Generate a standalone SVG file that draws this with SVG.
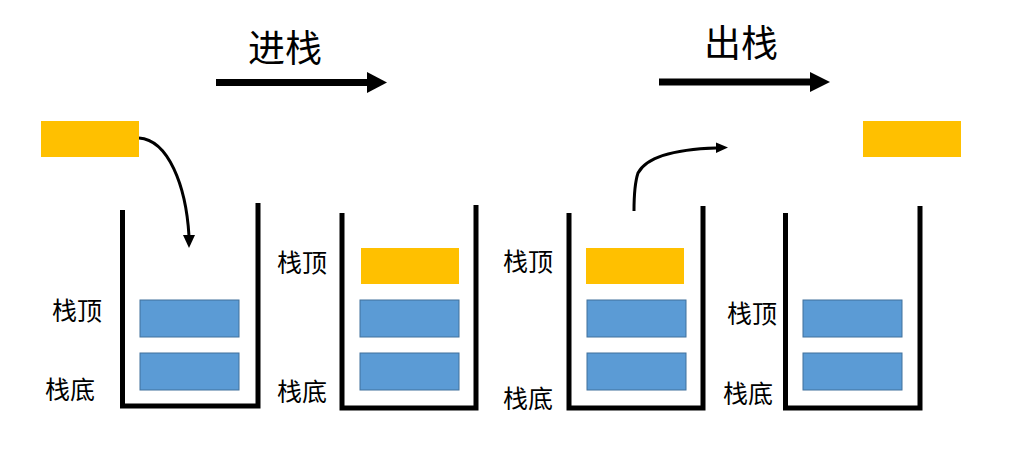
<svg xmlns="http://www.w3.org/2000/svg" width="1025" height="460" viewBox="0 0 1025 460">
<defs>
<style>
.wall{fill:none;stroke:#000;stroke-width:5;stroke-linejoin:miter;stroke-linecap:butt}
.blue{fill:#5B9BD5;stroke:#41719C;stroke-width:1}
.orange{fill:#FFC000;stroke:none}
.lbl{font-family:"Noto Sans CJK SC","Liberation Serif",serif;font-size:25px;fill:#000}
.title{font-family:"Noto Sans CJK SC","Liberation Serif",serif;font-size:37px;fill:#000}
.big{fill:none;stroke:#000;stroke-width:7}
.curve{fill:none;stroke:#000;stroke-width:3}
</style>
</defs>
<rect width="1025" height="460" fill="#fff"/>

<g id="connectors">
<g id="push-arrow">
<line class="big" x1="216" y1="82.5" x2="368" y2="82.5"/>
<polygon points="367,72 387,82.5 367,93" fill="#000"/>
</g>
<g id="pop-arrow">
<line class="big" x1="659" y1="82" x2="811" y2="82"/>
<polygon points="810,72 830,82 810,92" fill="#000"/>
</g>
<path id="push-curve" class="curve" d="M139,138 C168,140 186,185 189,236"/>
<polygon points="183,235 189,248 195,235" fill="#000"/>
<path id="pop-curve" class="curve" d="M634,211 C634,196 635,182 638,173 C648,154 685,149 716,148"/>
<polygon points="716,142.5 728,147.5 716,153" fill="#000"/>
</g>

<g id="title-push"><text class="title" x="248" y="62">进栈</text></g>
<g id="title-pop"><text class="title" x="704" y="57">出栈</text></g>

<g id="incoming"><rect class="orange" x="41" y="121" width="98" height="36"/></g>
<g id="outgoing"><rect class="orange" x="863" y="121" width="98" height="36"/></g>

<g id="stack1">
<path class="wall" d="M122.5,210 L122.5,406 L258,406 L258,203"/>
<rect class="blue" x="140" y="300" width="99" height="37"/>
<rect class="blue" x="140" y="353" width="99" height="37"/>
<text class="lbl" x="52" y="320">栈顶</text>
<text class="lbl" x="45" y="399">栈底</text>
</g>

<g id="stack2">
<path class="wall" d="M342,213 L342,408 L476,408 L476,205"/>
<rect class="orange" x="361" y="248" width="98" height="36"/>
<rect class="blue" x="360" y="300" width="99" height="37"/>
<rect class="blue" x="360" y="353" width="99" height="37"/>
<text class="lbl" x="277" y="272">栈顶</text>
<text class="lbl" x="277" y="401">栈底</text>
</g>

<g id="stack3">
<path class="wall" d="M569,213 L569,408 L703,408 L703,206"/>
<rect class="orange" x="586" y="248" width="98" height="36"/>
<rect class="blue" x="587" y="300" width="99" height="37"/>
<rect class="blue" x="587" y="353" width="99" height="37"/>
<text class="lbl" x="503" y="271">栈顶</text>
<text class="lbl" x="503" y="408">栈底</text>
</g>

<g id="stack4">
<path class="wall" d="M785.5,213 L785.5,408 L920,408 L920,206"/>
<rect class="blue" x="803" y="300" width="99" height="37"/>
<rect class="blue" x="803" y="353" width="99" height="37"/>
<text class="lbl" x="727" y="323">栈顶</text>
<text class="lbl" x="723" y="403">栈底</text>
</g>
</svg>
